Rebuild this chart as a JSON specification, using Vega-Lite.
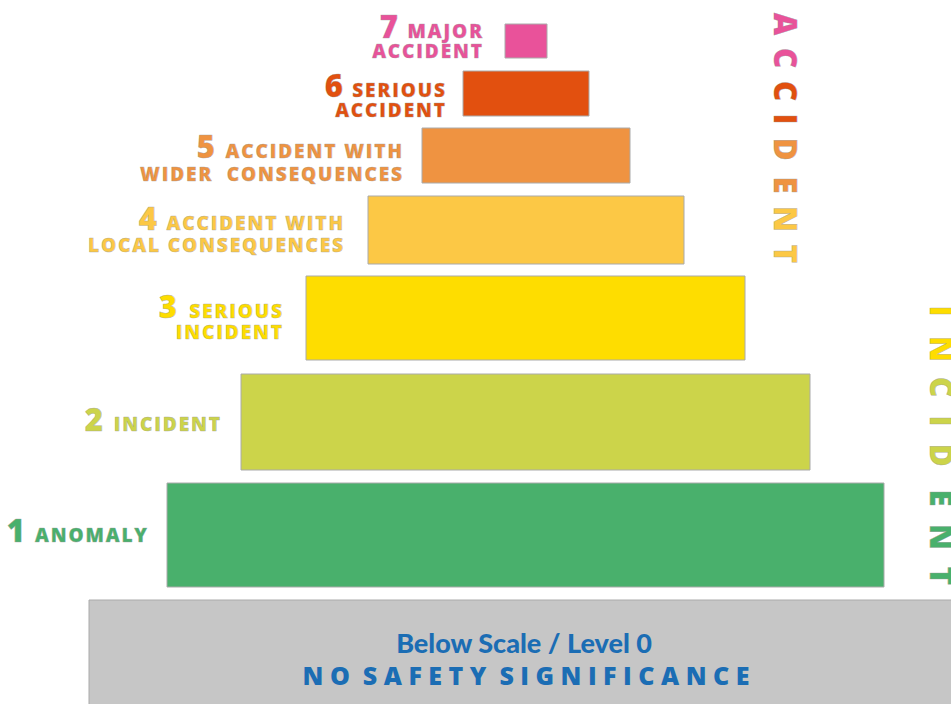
{
  "$schema": "https://vega.github.io/schema/vega-lite/v6.json",
  "width": 951,
  "height": 704,
  "padding": 0,
  "autosize": {"type": "none"},
  "background": "white",
  "config": {"view": {"stroke": null}},
  "datasets": {
    "bars": [
      {"level": "7", "left": -21, "right": 21, "bottom": 646, "top": 680},
      {"level": "6", "left": -63, "right": 63, "bottom": 588, "top": 633},
      {"level": "5", "left": -104, "right": 104, "bottom": 521, "top": 576},
      {"level": "4", "left": -158, "right": 158, "bottom": 440, "top": 508},
      {"level": "3", "left": -220, "right": 219, "bottom": 344, "top": 428},
      {"level": "2", "left": -285, "right": 284, "bottom": 234, "top": 330},
      {"level": "1", "left": -359, "right": 358, "bottom": 117, "top": 221},
      {"level": "0", "left": -437, "right": 430, "bottom": -5, "top": 104}
    ],
    "labels": [
      {"level": "7", "text": "M\u200aA\u200aJ\u200aO\u200aR", "x": -44, "y": 666},
      {"level": "7", "text": "A\u200aC\u200aC\u200aI\u200aD\u200aE\u200aN\u200aT", "x": -44, "y": 646},
      {"level": "6", "text": "S\u200aE\u200aR\u200aI\u200aO\u200aU\u200aS", "x": -81, "y": 607},
      {"level": "6", "text": "A\u200aC\u200aC\u200aI\u200aD\u200aE\u200aN\u200aT", "x": -81, "y": 587},
      {"level": "5", "text": "A\u200aC\u200aC\u200aI\u200aD\u200aE\u200aN\u200aT\u200a \u200aW\u200aI\u200aT\u200aH", "x": -124, "y": 546},
      {"level": "5", "text": "W\u200aI\u200aD\u200aE\u200aR\u200a\u00a0\u200a\u00a0\u200aC\u200aO\u200aN\u200aS\u200aE\u200aQ\u200aU\u200aE\u200aN\u200aC\u200aE\u200aS", "x": -124, "y": 523},
      {"level": "4", "text": "A\u200aC\u200aC\u200aI\u200aD\u200aE\u200aN\u200aT\u200a \u200aW\u200aI\u200aT\u200aH", "x": -183, "y": 474},
      {"level": "4", "text": "L\u200aO\u200aC\u200aA\u200aL\u200a \u200aC\u200aO\u200aN\u200aS\u200aE\u200aQ\u200aU\u200aE\u200aN\u200aC\u200aE\u200aS", "x": -183, "y": 452},
      {"level": "3", "text": "S\u200aE\u200aR\u200aI\u200aO\u200aU\u200aS", "x": -244, "y": 386},
      {"level": "3", "text": "I\u200aN\u200aC\u200aI\u200aD\u200aE\u200aN\u200aT", "x": -244, "y": 365},
      {"level": "2", "text": "I\u200aN\u200aC\u200aI\u200aD\u200aE\u200aN\u200aT", "x": -306, "y": 273},
      {"level": "1", "text": "A\u200aN\u200aO\u200aM\u200aA\u200aL\u200aY", "x": -379, "y": 162}
    ],
    "numbers": [
      {"level": "7", "text": "7", "x": -128, "y": 666},
      {"level": "6", "text": "6", "x": -183, "y": 607},
      {"level": "5", "text": "5", "x": -311, "y": 546},
      {"level": "4", "text": "4", "x": -369, "y": 474},
      {"level": "3", "text": "3", "x": -349, "y": 386},
      {"level": "2", "text": "2", "x": -423, "y": 273},
      {"level": "1", "text": "1", "x": -501, "y": 162}
    ],
    "letters": [
      {"word": "ACCIDENT", "letter": "A", "level": "7", "x": 257, "y": 680},
      {"word": "ACCIDENT", "letter": "C", "level": "7", "x": 257, "y": 646},
      {"word": "ACCIDENT", "letter": "C", "level": "6", "x": 257, "y": 613},
      {"word": "ACCIDENT", "letter": "I", "level": "6", "x": 257, "y": 585},
      {"word": "ACCIDENT", "letter": "D", "level": "5", "x": 257, "y": 555},
      {"word": "ACCIDENT", "letter": "E", "level": "5", "x": 257, "y": 519},
      {"word": "ACCIDENT", "letter": "N", "level": "4", "x": 257, "y": 485},
      {"word": "ACCIDENT", "letter": "T", "level": "4", "x": 257, "y": 450},
      {"word": "INCIDENT", "letter": "I", "level": "3", "x": 413, "y": 393},
      {"word": "INCIDENT", "letter": "N", "level": "3", "x": 413, "y": 355},
      {"word": "INCIDENT", "letter": "C", "level": "2", "x": 413, "y": 317},
      {"word": "INCIDENT", "letter": "I", "level": "2", "x": 413, "y": 283},
      {"word": "INCIDENT", "letter": "D", "level": "2", "x": 413, "y": 249},
      {"word": "INCIDENT", "letter": "E", "level": "1", "x": 413, "y": 206},
      {"word": "INCIDENT", "letter": "N", "level": "1", "x": 413, "y": 167},
      {"word": "INCIDENT", "letter": "T", "level": "1", "x": 413, "y": 128}
    ],
    "base1": [{"text": "Below Scale / Level 0", "x": -2, "y": 51}],
    "base2": [{"text": "N O\u00a0\u00a0S A F E T Y\u00a0\u00a0S I G N I F I C A N C E", "x": 0, "y": 19}]
  },
  "layer": [
    {
      "data": {"name": "bars"},
      "mark": {"type": "rect", "stroke": "#aaaaaa", "strokeWidth": 1},
      "encoding": {
        "x": {"field": "left", "type": "quantitative", "scale": {"domain": [-526, 425], "nice": false, "zero": false}, "axis": null},
        "x2": {"field": "right"},
        "y": {"field": "bottom", "type": "quantitative", "scale": {"domain": [0, 704], "nice": false, "zero": false}, "axis": null},
        "y2": {"field": "top"},
        "color": {
          "field": "level", "type": "nominal", "legend": null,
          "scale": {"domain": ["0", "1", "2", "3", "4", "5", "6", "7"],
                    "range": ["#c6c6c6", "#49b06c", "#ccd44a", "#fedd00", "#fcc845", "#ef9341", "#e2500f", "#e9529a"]}
        }
      }
    },
    {
      "data": {"name": "labels"},
      "mark": {"type": "text", "align": "right", "baseline": "alphabetic", "font": "Open Sans", "fontWeight": 800, "fontSize": 19, "stroke": "#999999", "strokeWidth": 0.5, "strokeOpacity": 0.7},
      "encoding": {
        "x": {"field": "x", "type": "quantitative"},
        "y": {"field": "y", "type": "quantitative"},
        "text": {"field": "text"},
        "color": {"field": "level", "type": "nominal"}
      }
    },
    {
      "data": {"name": "numbers"},
      "mark": {"type": "text", "align": "right", "baseline": "alphabetic", "font": "Open Sans", "fontWeight": 800, "fontSize": 31, "stroke": "#999999", "strokeWidth": 0.5, "strokeOpacity": 0.7},
      "encoding": {
        "x": {"field": "x", "type": "quantitative"},
        "y": {"field": "y", "type": "quantitative"},
        "text": {"field": "text"},
        "color": {"field": "level", "type": "nominal"}
      }
    },
    {
      "data": {"name": "letters"},
      "mark": {"type": "text", "align": "center", "baseline": "middle", "angle": 90, "font": "Open Sans", "fontWeight": 800, "fontSize": 31, "stroke": "#999999", "strokeWidth": 0.5, "strokeOpacity": 0.7},
      "encoding": {
        "x": {"field": "x", "type": "quantitative"},
        "y": {"field": "y", "type": "quantitative"},
        "text": {"field": "letter"},
        "color": {"field": "level", "type": "nominal"}
      }
    },
    {
      "data": {"name": "base1"},
      "mark": {"type": "text", "align": "center", "baseline": "alphabetic", "font": "Lato", "fontWeight": 900, "fontSize": 27, "fill": "#1b6db4"},
      "encoding": {
        "x": {"field": "x", "type": "quantitative"},
        "y": {"field": "y", "type": "quantitative"},
        "text": {"field": "text"}
      }
    },
    {
      "data": {"name": "base2"},
      "mark": {"type": "text", "align": "center", "baseline": "alphabetic", "font": "Open Sans", "fontWeight": 800, "fontSize": 25, "fill": "#1b6db4"},
      "encoding": {
        "x": {"field": "x", "type": "quantitative"},
        "y": {"field": "y", "type": "quantitative"},
        "text": {"field": "text"}
      }
    }
  ]
}
